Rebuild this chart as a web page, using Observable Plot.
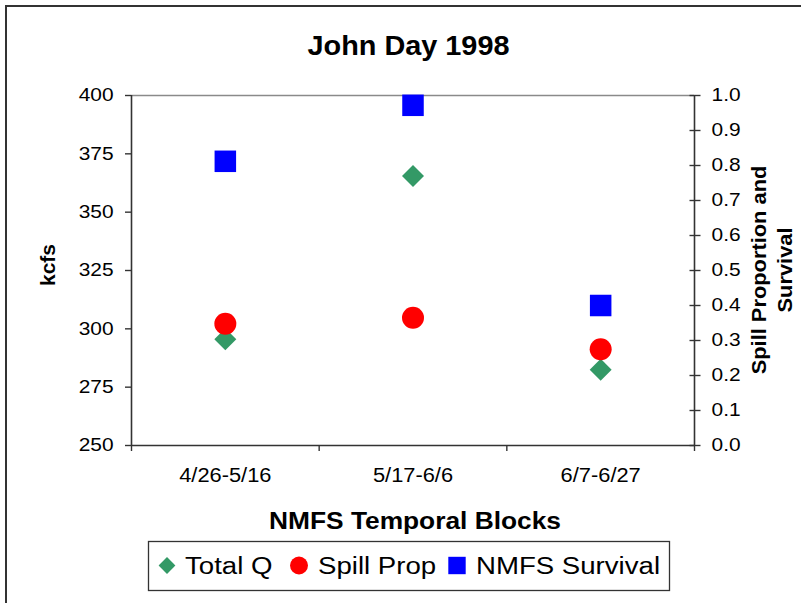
<!DOCTYPE html>
<html><head><meta charset="utf-8">
<script src="https://cdn.jsdelivr.net/npm/d3@7"></script>
<script src="https://cdn.jsdelivr.net/npm/@observablehq/plot@0.6"></script>
<style>
body{margin:0;background:#fff;font-family:"Liberation Sans",Arial,sans-serif}
#chart svg{display:block}
</style>
</head><body><div id="chart"></div>
<script>
// ---- data ----
const categories = ["4/26-5/16", "5/17-6/6", "6/7-6/27"];
const totalQ = [295.5, 365.5, 282.5];          // kcfs (left axis)
const spillProp = [0.348, 0.365, 0.275];        // proportion (right axis)
const nmfsSurvival = [0.812, 0.972, 0.400];     // proportion (right axis)
const leftTicks = [250, 275, 300, 325, 350, 375, 400];
const rightTicks = [0, 0.1, 0.2, 0.3, 0.4, 0.5, 0.6, 0.7, 0.8, 0.9, 1.0];
const legendLabels = ["Total Q", "Spill Prop", "NMFS Survival"];
const seriesColors = ["#339966", "#ff0000", "#0000ff"];

// right axis (0..1) is drawn onto the left scale (250..400)
const yMin = 250, yMax = 400;
const toLeft = p => yMin + p * (yMax - yMin);
const fromLeft = v => (v - yMin) / (yMax - yMin);

const rows = categories.map((c, i) => ({i, c, q: totalQ[i], spill: spillProp[i], surv: nmfsSurvival[i]}));
const xPos = d => d.i + 0.5;

const plot = Plot.plot({
  width: 801, height: 603,
  marginLeft: 131, marginRight: 107, marginTop: 95, marginBottom: 158,
  style: {fontFamily: "'Liberation Sans', Arial, sans-serif", background: "white", color: "black", overflow: "visible"},
  x: {type: "linear", domain: [0, categories.length], axis: null},
  y: {domain: [yMin, yMax], axis: null},
  marks: [
    Plot.ruleY([yMax], {stroke: "#8a8a8a", strokeWidth: 1.6}),
    Plot.ruleY([yMin], {stroke: "#333", strokeWidth: 1.6}),
    Plot.ruleX([0], {stroke: "#333", strokeWidth: 1.6}),
    Plot.ruleX([categories.length], {stroke: "#333", strokeWidth: 1.6}),
    // left axis
    Plot.axisY({anchor: "left", ticks: leftTicks, tickSize: 6, tickPadding: 12, fontSize: 18.5,
      tickFormat: d => String(d), label: null, stroke: "#333", strokeWidth: 1.4}),
    // right axis: crossing ticks + labels
    Plot.axisY({anchor: "right", ticks: rightTicks.map(toLeft), tickSize: 11, dx: -5.5,
      tickFormat: () => "", label: null, stroke: "#333", strokeWidth: 1.4}),
    Plot.axisY({anchor: "right", ticks: rightTicks.map(toLeft), tickSize: 0, tickPadding: 17, fontSize: 18.5,
      tickFormat: v => fromLeft(v).toFixed(1), label: null}),
    // bottom axis: ticks at category boundaries, labels at centers
    Plot.axisX({anchor: "bottom", ticks: d3.range(categories.length + 1), tickSize: 6,
      tickFormat: () => "", label: null, stroke: "#333", strokeWidth: 1.4}),
    Plot.axisX({anchor: "bottom", ticks: categories.map((c, i) => i + 0.5), tickSize: 0, tickPadding: 23,
      fontSize: 19.5, tickFormat: v => categories[Math.floor(v)], label: null}),
    // series
    Plot.dot(rows, {x: xPos, y: "q", symbol: "diamond2", r: 9.9, fill: seriesColors[0]}),
    Plot.dot(rows, {x: xPos, y: d => toLeft(d.spill), symbol: "circle", r: 11, fill: seriesColors[1]}),
    Plot.dot(rows, {x: xPos, y: d => toLeft(d.surv), symbol: "square2", r: 13.7, fill: seriesColors[2]})
  ]
});
document.getElementById("chart").appendChild(plot);

const svg = d3.select(plot);
function stretch(el, f) {
  const w = el.getComputedTextLength();
  el.setAttribute("textLength", (w * f).toFixed(2));
  el.setAttribute("lengthAdjust", "spacingAndGlyphs");
}
function addText(txt, x, y, size, weight, rot, f) {
  const t = svg.append("text")
    .attr("transform", `translate(${x},${y})` + (rot ? ` rotate(${rot})` : ""))
    .attr("text-anchor", "middle").attr("dy", "0.35em")
    .attr("font-size", size).attr("font-weight", weight).attr("fill", "black")
    .attr("font-family", "'Liberation Sans', Arial, sans-serif")
    .text(txt);
  if (f) stretch(t.node(), f);
  return t;
}

// outer chart border (extends past right and bottom edges)
svg.append("path").attr("d", "M6,610V6H810").attr("fill", "none").attr("stroke", "#333").attr("stroke-width", 2);

// titles
addText("John Day 1998", 408.5, 45.5, 28, "bold", 0, 1.03);
addText("NMFS Temporal Blocks", 415, 521, 23.5, "bold", 0, 1.12);
addText("kcfs", 48, 265, 20, "bold", -90, 1.05);
addText("Spill Proportion and", 759, 270, 21, "bold", -90, 1.04);
addText("Survival", 785, 270, 21, "bold", -90, 1.04);

// stretch axis tick labels like the reference rendering
plot.querySelectorAll('g[aria-label="y-axis tick label"] text').forEach(t => { if (t.textContent) stretch(t, 1.13); });
plot.querySelectorAll('g[aria-label="x-axis tick label"] text').forEach(t => { if (t.textContent) stretch(t, 1.12); });

// legend
const lg = svg.append("g");
lg.append("rect").attr("x", 148.5).attr("y", 541.5).attr("width", 521).attr("height", 49)
  .attr("fill", "white").attr("stroke", "#333").attr("stroke-width", 1.3);
const legendSymbols = [d3.symbolDiamond2, d3.symbolCircle, d3.symbolSquare2];
const legendSizes = [ (8.4 / 0.62625) ** 2, Math.PI * 9 * 9, (8.7 / 0.4431) ** 2 ];
const legendSymX = [167, 299, 457];
const legendTextX = [185, 318, 476];
legendLabels.forEach((lab, i) => {
  lg.append("path").attr("d", d3.symbol(legendSymbols[i], legendSizes[i])())
    .attr("transform", `translate(${legendSymX[i]},565.5)`).attr("fill", seriesColors[i]);
  const t = lg.append("text").attr("x", legendTextX[i]).attr("y", 565.5).attr("dy", "0.35em")
    .attr("text-anchor", "start")
    .attr("font-size", 23).attr("fill", "black")
    .attr("font-family", "'Liberation Sans', Arial, sans-serif").text(lab);
  stretch(t.node(), 1.2);
});
</script>
</body></html>
